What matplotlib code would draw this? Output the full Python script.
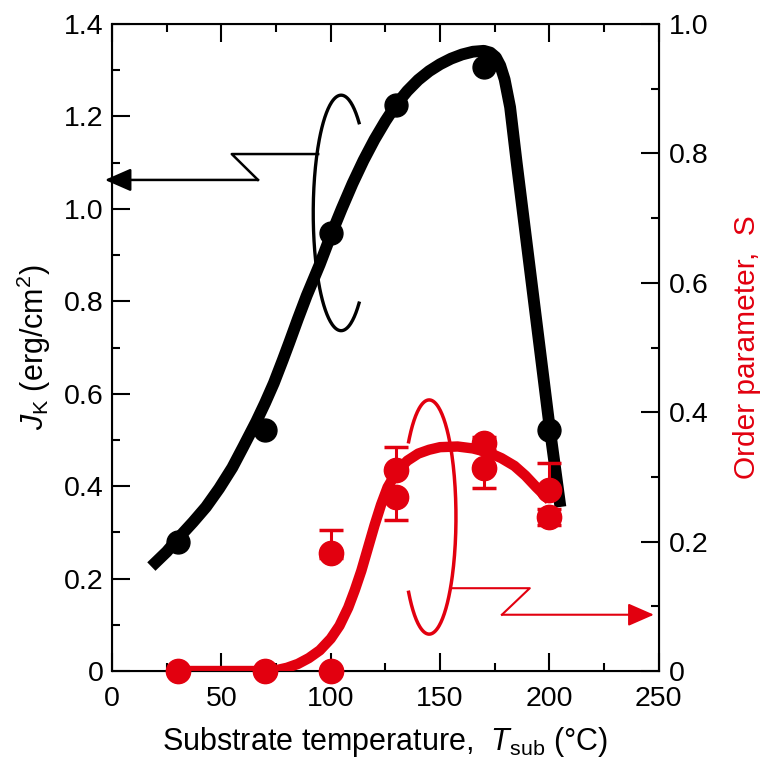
import matplotlib
matplotlib.use("Agg")
import matplotlib.pyplot as plt
import numpy as np

plt.rcParams["font.family"] = ["Liberation Sans", "DejaVu Sans"]
plt.rcParams["mathtext.fontset"] = "custom"
plt.rcParams["mathtext.rm"] = "Liberation Sans"
plt.rcParams["mathtext.it"] = "Liberation Sans:italic"

RED = "#e2000f"

# measured points: anisotropy constant (left axis)
jk_temp = [30, 70, 100, 130, 170, 200]
jk_value = [0.280, 0.522, 0.948, 1.225, 1.307, 0.522]

# guide line through the Jk points
jk_line_temp = [18, 25, 31, 37, 43, 49, 55, 60, 66, 70, 74, 78, 81, 85, 89, 95,
                100, 105, 110, 115, 120, 125, 130, 135, 140, 145, 150, 155, 160,
                165, 170, 173, 175.5, 177.5, 179.5, 182, 185, 190, 195, 200, 205]
jk_line_value = [0.226, 0.258, 0.291, 0.322, 0.355, 0.395, 0.440, 0.485, 0.540,
                 0.580, 0.623, 0.672, 0.710, 0.762, 0.812, 0.880, 0.942, 1.000,
                 1.055, 1.105, 1.150, 1.190, 1.226, 1.255, 1.279, 1.298, 1.313,
                 1.325, 1.334, 1.340, 1.342, 1.338, 1.328, 1.310, 1.280, 1.220,
                 1.100, 0.910, 0.720, 0.530, 0.355]

# measured points: order parameter S (right axis), with error bars
s_temp = [30, 70, 100, 100, 130, 130, 170, 170, 200, 200]
s_value = [0.0, 0.0, 0.0, 0.182, 0.311, 0.269, 0.352, 0.314, 0.280, 0.238]
s_err_up = [0, 0, 0, 0.036, 0.035, 0.0, 0.010, 0.0, 0.041, 0.012]
s_err_down = [0, 0, 0, 0.008, 0.0, 0.036, 0.010, 0.031, 0.0, 0.012]

# guide line through the S points
s_line_temp = [30, 50, 70, 76, 80, 85, 90, 95, 100, 104, 108, 111, 114, 117,
               120, 123, 126, 130, 135, 140, 145, 150, 158, 165, 172, 178, 184,
               189, 194, 200]
s_line_value = [0.0, 0.0, 0.0, 0.002, 0.005, 0.011, 0.020, 0.032, 0.050, 0.070,
                0.098, 0.125, 0.155, 0.190, 0.225, 0.257, 0.284, 0.307, 0.325,
                0.336, 0.342, 0.346, 0.347, 0.344, 0.338, 0.329, 0.317, 0.302,
                0.284, 0.264]

x_ticks = [0, 50, 100, 150, 200, 250]
left_ticks = [0, 0.2, 0.4, 0.6, 0.8, 1.0, 1.2, 1.4]
left_ticklabels = ["0", "0.2", "0.4", "0.6", "0.8", "1.0", "1.2", "1.4"]
right_ticks = [0, 0.2, 0.4, 0.6, 0.8, 1.0]
right_ticklabels = ["0", "0.2", "0.4", "0.6", "0.8", "1.0"]

fig = plt.figure(figsize=(7.67, 7.64), dpi=100)
ax = fig.add_axes([0.146, 0.1217, 0.713, 0.8469])
ax2 = ax.twinx()

# --- left axis: Jk ---
ax.plot(jk_line_temp, jk_line_value, color="k", lw=8.5, solid_capstyle="butt",
        solid_joinstyle="round")
ax.plot(jk_temp, jk_value, "o", color="k", ms=16.5)

ax.set_xlim(0, 250)
ax.set_ylim(0, 1.4)
ax.set_xticks(x_ticks)
ax.set_xticks(np.arange(25, 250, 50), minor=True)
ax.set_yticks(left_ticks)
ax.set_yticklabels(left_ticklabels)
ax.set_yticks(np.arange(0.1, 1.4, 0.2), minor=True)
ax.tick_params(which="both", direction="in", top=True, right=False, width=1.5,
               labelsize=20.5)
ax.tick_params(which="major", length=13)
ax.tick_params(which="minor", length=6)
ax.tick_params(axis="x", pad=11)
ax.tick_params(axis="y", pad=6)
for sp in ax.spines.values():
    sp.set_linewidth(1.5)

ax.set_xlabel(r"Substrate temperature,  $T_{\rm sub}$ (°C)", fontsize=22, labelpad=9)
ax.set_ylabel(r"$J_{\rm K}$ (erg/cm$^2$)", fontsize=22, labelpad=8)

# --- right axis: order parameter ---
ax2.plot(s_line_temp, s_line_value, color=RED, lw=7.5, solid_capstyle="butt",
         solid_joinstyle="round")
err = np.array([s_err_down, s_err_up])
has_err = err.sum(axis=0) > 0
ax2.errorbar(np.array(s_temp)[has_err], np.array(s_value)[has_err],
             yerr=err[:, has_err], fmt="none", ecolor=RED, elinewidth=2.2,
             capsize=8.3, capthick=2.5)
ax2.plot(s_temp, s_value, "o", color=RED, ms=17.5, clip_on=False, zorder=5)

ax2.set_ylim(0, 1.0)
ax2.set_yticks(right_ticks)
ax2.set_yticklabels(right_ticklabels)
ax2.set_yticks(np.arange(0.1, 1.0, 0.2), minor=True)
ax2.tick_params(which="both", direction="in", width=1.5, labelsize=20.5, pad=7)
ax2.tick_params(which="major", length=13)
ax2.tick_params(which="minor", length=6)
ax2.set_ylabel("Order parameter,  S", fontsize=21.5, color=RED, labelpad=18)

# --- ellipses with arrows pointing to each curve's axis ---
t = np.radians(np.linspace(50, 310, 200))
ax.plot(0.419 + 0.051 * np.cos(t), 0.708 + 0.182 * np.sin(t), color="k", lw=2.4,
        transform=ax.transAxes, clip_on=False)
ax.plot([0.377, 0.219, 0.267], [0.799, 0.799, 0.759], color="k", lw=1.8,
        transform=ax.transAxes, clip_on=False)
ax.annotate("", xy=(-0.013, 0.759), xytext=(0.267, 0.759), xycoords="axes fraction",
            arrowprops=dict(arrowstyle="-|>,head_length=0.8,head_width=0.35",
                            color="k", lw=1.8, shrinkA=0, shrinkB=0,
                            mutation_scale=20),
            annotation_clip=False)

t = np.radians(np.linspace(-140, 140, 200))
ax2.plot(0.580 + 0.049 * np.cos(t), 0.238 + 0.181 * np.sin(t), color=RED, lw=2.5,
         transform=ax2.transAxes, clip_on=False)
ax2.plot([0.620, 0.764, 0.713], [0.128, 0.128, 0.087], color=RED, lw=1.5,
         transform=ax2.transAxes, clip_on=False)
ax2.annotate("", xy=(0.991, 0.087), xytext=(0.713, 0.087), xycoords="axes fraction",
             arrowprops=dict(arrowstyle="-|>,head_length=0.8,head_width=0.35",
                             color=RED, lw=1.5, shrinkA=0, shrinkB=0,
                             mutation_scale=20),
             annotation_clip=False)

fig.savefig("out.png", dpi=100)
